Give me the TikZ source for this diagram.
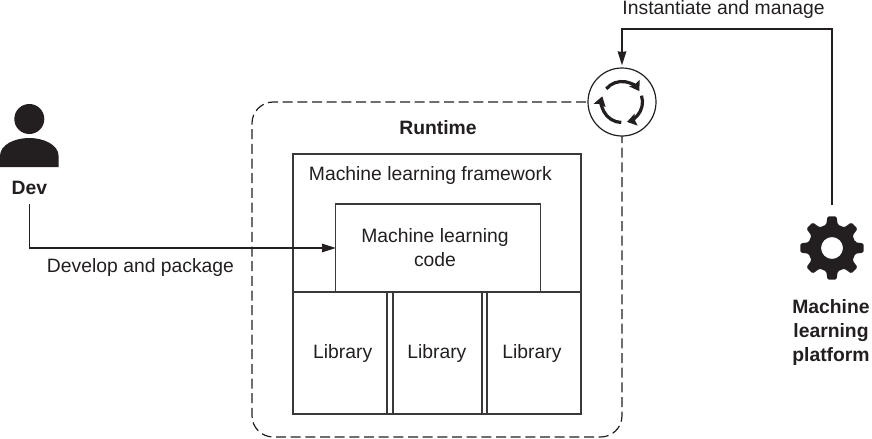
\documentclass[tikz,border=0pt]{standalone}
\usepackage{fontspec}
\setmainfont{Liberation Sans}
\usepackage{xcolor}
\usepackage{tikz}
\usetikzlibrary{positioning, arrows.meta, calc}
\definecolor{inkdark}{HTML}{231F20}
\definecolor{boxline}{HTML}{3A3839}

\begin{document}
\begin{tikzpicture}[
        x=0.75pt, y=-0.75pt,
        every node/.style={font=\fontsize{14.5}{18}\selectfont, text=inkdark, inner sep=0pt, outer sep=0pt},
        box/.style={rectangle, draw=boxline, line width=0.95pt, text centered},
        runtimebox/.style={rectangle, rounded corners=16pt, draw=inkdark, line width=0.9pt, dash pattern=on 7.5pt off 3.5pt, minimum width=277.5pt, minimum height=251.25pt},
        librarybox/.style={box, minimum height=91.5pt},
        boldlabel/.style={font=\fontsize{14.5}{18}\selectfont\bfseries, align=center},
        icon/.style={fill=inkdark, draw=none},
        arrow/.style={line width=0.9pt, draw=inkdark, -{Stealth[length=10.5pt, width=6.5pt, inset=0.5pt]}},
        cyclearrow/.style={line width=2.4pt, draw=inkdark, -{Stealth[length=7pt, width=9pt, inset=1pt]}}
    ]
    \useasboundingbox (0,0) rectangle (872,439);

    % Nodes
    \node (Runtime) [runtimebox] at (437,269.5) {};
    \node (RuntimeLabel) [boldlabel] at (438,127.5) {Runtime};

    \node (Framework) [box, minimum width=216pt, minimum height=195pt, below=39pt of Runtime.north] {};
    \node (FrameworkLabel) [below=9pt of Framework.north, xshift=-5pt] {Machine learning framework};
    \node (Code) [box, minimum width=153.75pt, minimum height=66pt, below=37.5pt of Framework.north, xshift=1pt, align=center] {\kern-5pt Machine learning\\\kern-5pt code};

    % Library row
    \node (LibraryA) [librarybox, minimum width=70.5pt, below right=103.5pt and 0pt of Framework.north west] {\raisebox{-1.2pt}{\kern4pt Library}};
    \node (LibraryB) [librarybox, minimum width=66.75pt, right=4.5pt of LibraryA] {\raisebox{-1.2pt}{\kern-1pt Library}};
    \node (LibraryC) [librarybox, minimum width=70.5pt, right=3.75pt of LibraryB] {\raisebox{-1.2pt}{\kern-3pt Library}};

    % Dev figure
    \node (DevHead) [circle, icon, minimum size=22.5pt] at (29.3,119) {};
    \fill [icon] (0,167) -- (0,156) .. controls (0,145) and (14,138) .. (29.3,138) .. controls (44,138) and (58.6,145) .. (58.6,156) -- (58.6,167) -- cycle;
    \node (Dev) [boldlabel, minimum height=24pt] at (29.3,188) {Dev};

    % Instantiate and manage
    \node (Cycle) [circle, draw=inkdark, fill=white, line width=0.9pt, minimum size=51pt] at (622,102) {};
    \foreach \a/\b in {-140/-32, -18/76, 92/196}
        \draw [cyclearrow] (Cycle.center) ++(\a:20.5) arc[start angle=\a, end angle=\b, radius=20.5];

    % Platform gear
    \node (Gear) [circle, minimum size=48pt] at (832,248) {};
    \fill [icon, even odd rule, rounded corners=1pt, shift={(Gear.center)}] (-14:24)
        \foreach \a in {0,45,...,315} { -- ({\a-14}:24) -- ({\a-8}:32) -- ({\a+8}:32) -- ({\a+14}:24) } -- cycle
        (0,0) circle[radius=11];
    \node (Platform) [boldlabel] at (831,332) {Machine\\learning\\platform};

    \node (DevelopLabel) at (140.5,267) {Develop and package};
    \node (ManageLabel) at (723.5,10) {Instantiate and manage};
    \coordinate (ManageTurn) at (Gear |- 0,29);

    % Arrows
    \draw [arrow] (Dev.south) |- (Code.west);
    \draw [arrow, shorten >=2pt, shorten <=8.25pt] (Gear.north) -- (ManageTurn) -| (Cycle.north);

\end{tikzpicture}
\end{document}
